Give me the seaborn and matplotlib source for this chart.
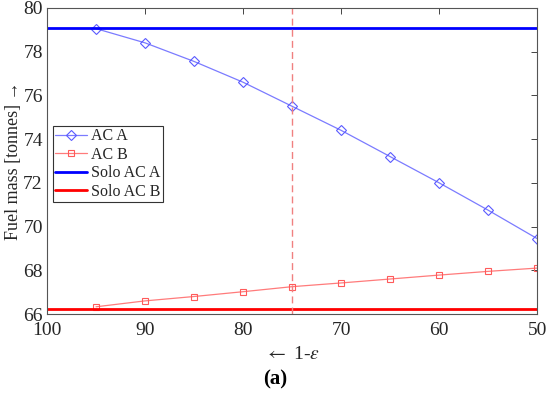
import matplotlib
matplotlib.use('Agg')
import matplotlib.pyplot as plt
import seaborn as sns
import pandas as pd

# --- Data ---
x_vals = [95, 90, 85, 80, 75, 70, 65, 60, 55, 50]
ac_a = [79.05, 78.40, 77.55, 76.60, 75.50, 74.40, 73.20, 72.00, 70.75, 69.45]
ac_b = [66.33, 66.60, 66.80, 67.02, 67.25, 67.42, 67.60, 67.78, 67.95, 68.10]
solo_a = 79.07
solo_b = 66.22
x_marker = 75
x_ticks = [100, 90, 80, 70, 60, 50]
y_ticks = [66, 68, 70, 72, 74, 76, 78, 80]

df = pd.DataFrame({'x': x_vals, 'AC A': ac_a, 'AC B': ac_b})

sns.set_style('white')
plt.rcParams['font.family'] = ['Liberation Serif', 'DejaVu Serif']
plt.rcParams['mathtext.fontset'] = 'stix'

fig = plt.figure(figsize=(5.5, 3.93), dpi=100)
ax = fig.add_axes([0.0855, 0.201, 0.891, 0.779])

sns.lineplot(data=df, x='x', y='AC A', ax=ax, color='#7b7bff', lw=0.9,
             marker='D', markersize=5, markerfacecolor='none',
             markeredgecolor='#5a5aff', markeredgewidth=0.8, label='AC A')
sns.lineplot(data=df, x='x', y='AC B', ax=ax, color='#ff7b7b', lw=0.9,
             marker='s', markersize=4, markerfacecolor='none',
             markeredgecolor='#ff5a5a', markeredgewidth=0.8, label='AC B')
ax.axhline(solo_a, color='#0000ff', lw=2, label='Solo AC A')
ax.axhline(solo_b, color='#ff0000', lw=2, label='Solo AC B')
ax.axvline(x_marker, color='#f08080', lw=1, ls=(0, (5, 3)))

ax.set_xlim(100, 50)
ax.set_ylim(66, 80)
ax.set_xticks(x_ticks)
ax.set_yticks(y_ticks)
ax.tick_params(direction='in', length=4, width=0.6, colors='#262626',
               labelsize=14, top=True, right=True, labelcolor='#262626')
ax.tick_params(axis='x', pad=6)
ax.tick_params(axis='y', pad=3)
for s in ax.spines.values():
    s.set_color('#555555')
    s.set_linewidth(0.8)

ax.set_xlabel(r'$\leftarrow$ 1-$\varepsilon$', fontsize=14, color='#262626', labelpad=5)
ax.set_ylabel('Fuel mass [tonnes] \u2192', fontsize=13, color='#262626', labelpad=1)

leg = ax.legend(loc='upper left', bbox_to_anchor=(0.012, 0.614), fontsize=11.5,
                frameon=True, fancybox=False, framealpha=1, borderpad=0.15,
                labelspacing=0.15, handlelength=2.0, handletextpad=0.25,
                borderaxespad=0.0)
leg.get_frame().set_edgecolor('#333333')
leg.get_frame().set_linewidth(0.8)

fig.text(0.5, 0.01, '(a)', ha='center', va='bottom', fontsize=15,
         fontweight='bold', color='black')

fig.savefig('out.png', dpi=100)
